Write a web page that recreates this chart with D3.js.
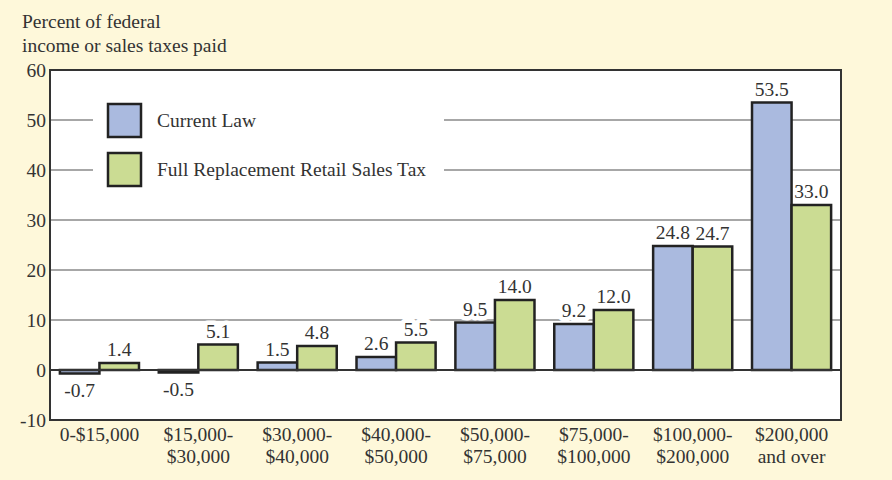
<!DOCTYPE html>
<html lang="en">
<head>
  <meta charset="UTF-8" />
  <title>Percent of federal income or sales taxes paid</title>
  <style>
    body { margin: 0; padding: 0; background: #fef8da; }
    #chart { display: block; }
    text { font-family: "Liberation Serif", "DejaVu Serif", serif; fill: #333; }
  </style>
  <script src="https://d3js.org/d3.v7.min.js"></script>
</head>
<body>
<svg id="chart" width="892" height="480"></svg>
<script>
// income brackets, two label lines each
const categories = [
  ["0-$15,000"],
  ["$15,000-", "$30,000"],
  ["$30,000-", "$40,000"],
  ["$40,000-", "$50,000"],
  ["$50,000-", "$75,000"],
  ["$75,000-", "$100,000"],
  ["$100,000-", "$200,000"],
  ["$200,000", "and over"]
];
const currentLaw = [-0.7, -0.5, 1.5, 2.6, 9.5, 9.2, 24.8, 53.5];
const salesTax = [1.4, 5.1, 4.8, 5.5, 14.0, 12.0, 24.7, 33.0];
const seriesNames = ["Current Law", "Full Replacement Retail Sales Tax"];
const yTicks = [-10, 0, 10, 20, 30, 40, 50, 60];

const colors = ["#aabadf", "#cbdc93"];
const FS = 19.5;
const svg = d3.select("#chart");
const margin = {top: 70, right: 51, bottom: 60, left: 50};
const W = 892, H = 480;

const x = d3.scaleBand()
  .domain(d3.range(categories.length))
  .range([margin.left, W - margin.right])
  .paddingInner(0.2)
  .paddingOuter(0.1);
const xs = d3.scaleBand().domain([0, 1]).range([0, x.bandwidth()]);
const y = d3.scaleLinear().domain([-10, 60]).range([H - margin.bottom, margin.top]);

// plot area
svg.append("rect")
  .attr("x", margin.left).attr("y", margin.top)
  .attr("width", W - margin.left - margin.right)
  .attr("height", H - margin.top - margin.bottom)
  .attr("fill", "#fff");

// gridlines
svg.append("g")
  .selectAll("line")
  .data(yTicks.filter(t => t > 0 && t < 60))
  .join("line")
  .attr("x1", margin.left).attr("x2", W - margin.right)
  .attr("y1", d => y(d)).attr("y2", d => y(d))
  .attr("stroke", "#8a8a8a").attr("stroke-width", 1.5);

// legend backing (hides gridlines)
const lg = svg.append("g");
lg.append("rect")
  .attr("x", 93).attr("y", 96).attr("width", 351).attr("height", 96)
  .attr("fill", "#fff");
seriesNames.forEach((name, i) => {
  lg.append("rect")
    .attr("x", 108).attr("y", 104 + i * 49)
    .attr("width", 33).attr("height", 33)
    .attr("fill", colors[i]).attr("stroke", "#222").attr("stroke-width", 2.5);
  lg.append("text")
    .attr("x", 157).attr("y", 127 + i * 49)
    .attr("font-size", FS)
    .text(name);
});

const data = categories.map((c, i) => ({i, vals: [currentLaw[i], salesTax[i]]}));

// value labels first, white halo breaks the gridlines
svg.append("g").selectAll("g")
  .data(data)
  .join("g")
  .attr("transform", d => `translate(${x(d.i)},0)`)
  .selectAll("text")
  .data(d => d.vals.map((v, s) => ({v, s})))
  .join("text")
  .attr("x", d => xs(d.s) + xs.bandwidth() / 2)
  .attr("y", d => d.v >= 0 ? y(d.v) - 7 : y(d.v) + 23)
  .attr("text-anchor", "middle")
  .attr("font-size", FS)
  .attr("stroke", "#fff").attr("stroke-width", 9)
  .attr("paint-order", "stroke")
  .attr("stroke-linejoin", "round")
  .text(d => d.v.toFixed(1));

// bars
svg.append("g").selectAll("g")
  .data(data)
  .join("g")
  .attr("transform", d => `translate(${x(d.i)},0)`)
  .selectAll("rect")
  .data(d => d.vals.map((v, s) => ({v, s})))
  .join("rect")
  .attr("x", d => xs(d.s))
  .attr("width", xs.bandwidth())
  .attr("y", d => y(Math.max(0, d.v)))
  .attr("height", d => Math.abs(y(d.v) - y(0)))
  .attr("fill", d => colors[d.s])
  .attr("stroke", "#222").attr("stroke-width", 2.5);

// zero line
svg.append("line")
  .attr("x1", margin.left).attr("x2", W - margin.right)
  .attr("y1", y(0)).attr("y2", y(0))
  .attr("stroke", "#333").attr("stroke-width", 2);

// frame
svg.append("rect")
  .attr("x", margin.left).attr("y", margin.top)
  .attr("width", W - margin.left - margin.right)
  .attr("height", H - margin.top - margin.bottom)
  .attr("fill", "none").attr("stroke", "#333").attr("stroke-width", 2);

// y axis
const yAxis = svg.append("g")
  .attr("transform", `translate(${margin.left},0)`)
  .call(d3.axisLeft(y).tickValues(yTicks).tickSize(0).tickPadding(4)
    .tickFormat(d => String(d)));
yAxis.select(".domain").remove();
yAxis.attr("font-family", null).attr("font-size", null);
yAxis.selectAll("text").attr("font-size", FS).attr("dy", "0.32em").attr("fill", "#333");

// x labels
const xl = svg.append("g").selectAll("text")
  .data(categories)
  .join("text")
  .attr("x", (d, i) => x(i) + x.bandwidth() / 2)
  .attr("y", H - margin.bottom + 21)
  .attr("text-anchor", "middle")
  .attr("font-size", FS);
xl.selectAll("tspan")
  .data(d => d)
  .join("tspan")
  .attr("x", function() { return this.parentNode.getAttribute("x"); })
  .attr("dy", (d, j) => j ? 22 : 0)
  .text(d => d);

// axis title
svg.append("text")
  .attr("x", 22).attr("y", 28).attr("font-size", FS)
  .text("Percent of federal");
svg.append("text")
  .attr("x", 22).attr("y", 52).attr("font-size", FS)
  .text("income or sales taxes paid");
</script>
</body>
</html>
